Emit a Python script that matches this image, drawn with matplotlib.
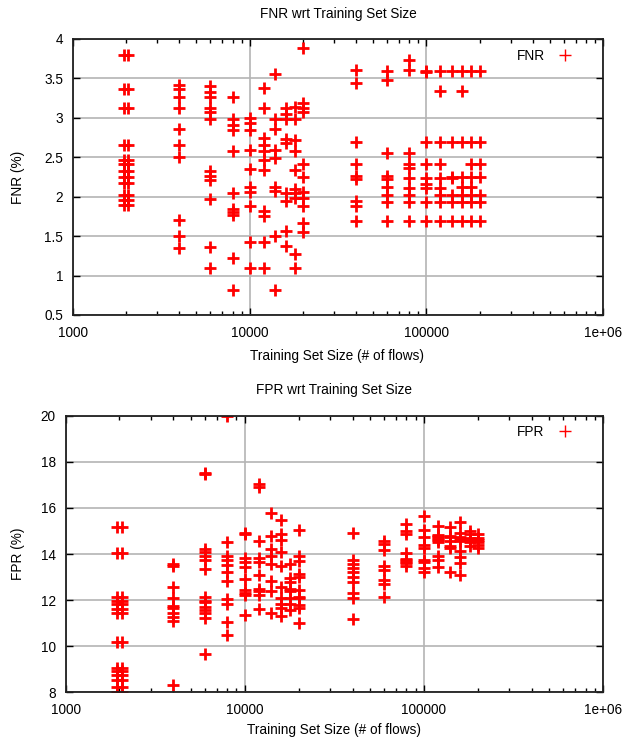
import matplotlib
matplotlib.use("Agg")
import matplotlib.pyplot as plt
import matplotlib.transforms as mtransforms
from matplotlib.ticker import NullFormatter, LogLocator
from matplotlib.lines import Line2D

plt.rcParams['font.family'] = ['Liberation Sans', 'DejaVu Sans']

# ---------------- data ----------------
sizes = [2000, 4000, 6000, 8000, 10000, 12000, 14000, 16000, 18000, 20000,
         40000, 60000, 80000, 100000, 120000, 140000, 160000, 180000, 200000]

fnr_values = [
    [3.80, 3.36, 3.13, 2.65, 2.46, 2.41, 2.33, 2.25, 2.17, 2.02, 1.96, 1.90],  # 2000
    [3.42, 3.37, 3.26, 3.12, 2.86, 2.65, 2.50, 1.70, 1.50, 1.35],              # 4000
    [3.40, 3.33, 3.27, 3.13, 3.07, 2.98, 2.33, 2.26, 2.21, 1.97, 1.36, 1.10],  # 6000
    [3.27, 2.98, 2.91, 2.84, 2.58, 2.05, 1.84, 1.80, 1.77, 1.22, 0.82],        # 8000
    [3.00, 2.93, 2.85, 2.59, 2.35, 2.12, 2.06, 1.88, 1.42, 1.10],              # 10000
    [3.38, 3.12, 2.74, 2.66, 2.58, 2.46, 2.34, 1.82, 1.76, 1.42, 1.10],        # 12000
    [3.55, 2.99, 2.86, 2.59, 2.49, 2.12, 2.07, 1.50, 0.82],                    # 14000
    [3.12, 3.05, 2.98, 2.73, 2.68, 2.05, 1.95, 1.57, 1.37],                    # 16000
    [3.14, 2.98, 2.72, 2.58, 2.34, 2.10, 2.05, 1.99, 1.27, 1.10],              # 18000
    [3.88, 3.19, 3.13, 3.07, 2.41, 2.25, 2.06, 1.98, 1.88, 1.67, 1.55],        # 20000
    [3.61, 3.44, 2.69, 2.41, 2.26, 2.22, 1.94, 1.88, 1.69],                    # 40000
    [3.59, 3.48, 2.55, 2.26, 2.23, 2.12, 2.02, 1.93, 1.69],                    # 60000
    [3.74, 3.61, 2.55, 2.41, 2.37, 2.24, 2.11, 2.02, 1.93, 1.69],              # 80000
    [3.59, 3.58, 2.69, 2.41, 2.24, 2.16, 2.11, 1.93, 1.69],                    # 100000
    [3.59, 3.34, 2.69, 2.41, 2.24, 2.11, 2.02, 1.93, 1.69],                    # 120000
    [3.59, 2.69, 2.25, 2.24, 2.02, 1.93, 1.69],                                # 140000
    [3.59, 3.34, 2.69, 2.25, 2.12, 2.02, 1.93, 1.69],                          # 160000
    [3.59, 2.69, 2.41, 2.25, 2.12, 2.02, 1.93, 1.69],                          # 180000
    [3.59, 2.69, 2.41, 2.25, 2.02, 1.93, 1.69],                                # 200000
]

fpr_values = [
    [15.17, 14.04, 12.12, 11.95, 11.82, 11.62, 11.42, 10.2, 9.07, 8.91, 8.76, 8.55, 8.25, 8.03],  # 2000
    [13.55, 13.5, 12.58, 12.08, 11.75, 11.65, 11.45, 11.25, 11.08, 8.32],            # 4000
    [17.52, 17.47, 14.2, 14.08, 13.9, 13.75, 13.36, 12.12, 11.98, 11.9, 11.7, 11.58, 11.42, 11.22, 9.67],  # 6000
    [20.0, 14.52, 13.92, 13.75, 13.52, 13.2, 12.82, 12.05, 11.85, 11.06, 10.5],     # 8000
    [14.93, 14.88, 13.82, 13.66, 13.42, 12.9, 12.42, 12.3, 12.2, 11.35],            # 10000
    [17.02, 16.9, 14.55, 13.82, 13.66, 13.08, 12.5, 12.4, 12.2, 11.62],             # 12000
    [15.78, 14.8, 14.22, 13.92, 13.55, 12.83, 12.4, 11.42],                         # 14000
    [15.48, 14.86, 14.6, 14.08, 13.46, 12.58, 12.1, 11.85, 11.64, 11.32],           # 16000
    [13.55, 12.95, 12.8, 12.5, 12.4, 12.1, 11.82, 11.56],                           # 18000
    [15.05, 13.93, 13.7, 13.12, 13.0, 12.45, 12.15, 12.08, 11.8, 11.64, 11.0],      # 20000
    [14.91, 13.76, 13.56, 13.4, 13.2, 13.0, 12.78, 12.3, 12.1, 11.16],              # 40000
    [14.56, 14.42, 14.19, 13.5, 13.3, 12.88, 12.7, 12.14],                          # 60000
    [15.3, 15.0, 14.85, 14.05, 13.8, 13.74, 13.66, 13.6, 13.5],                     # 80000
    [15.65, 15.05, 14.75, 14.37, 14.26, 13.72, 13.65, 13.38, 13.22],                # 100000
    [15.22, 14.82, 14.77, 14.72, 14.67, 14.6, 14.5, 13.9, 13.75, 13.45],            # 120000
    [15.17, 14.8, 14.73, 14.55, 14.33, 14.25, 13.2],                                # 140000
    [15.4, 14.9, 14.75, 14.65, 14.55, 14.15, 13.85, 13.6, 13.1],                    # 160000
    [15.0, 14.85, 14.7, 14.6, 14.5, 14.35],                                         # 180000
    [14.85, 14.7, 14.6, 14.5, 14.4, 14.25],                                         # 200000
]

doubled_sizes = [2000]   # columns drawn as a pair of side-by-side markers

fnr_yticks = [0.5, 1, 1.5, 2, 2.5, 3, 3.5, 4]
fnr_yticklabels = ["0.5", "1", "1.5", "2", "2.5", "3", "3.5", "4"]
fpr_yticks = [8, 10, 12, 14, 16, 18, 20]
fpr_yticklabels = ["8", "10", "12", "14", "16", "18", "20"]
xticks = [1000, 10000, 100000, 1000000]
xticklabels = ["1000", "10000", "100000", "1e+06"]

# ---------------- figure ----------------
W, H = 634, 738
fig = plt.figure(figsize=(W / 100, H / 100), dpi=100)

RED = '#ff0000'
GRID = '#b4b4b4'
FS = 9.8


def setup(ax, ylim, yticks, ylabels):
    ax.set_xscale('log')
    ax.set_xlim(1000, 1e6)
    ax.set_ylim(*ylim)
    ax.set_xticks(xticks)
    ax.set_xticklabels(xticklabels)
    ax.xaxis.set_minor_locator(LogLocator(base=10, subs=range(2, 10)))
    ax.xaxis.set_minor_formatter(NullFormatter())
    ax.set_yticks(yticks)
    ax.set_yticklabels(ylabels)
    ax.tick_params(which='both', direction='in', top=True, right=True,
                   labelsize=FS, colors='black', width=1)
    ax.tick_params(which='major', length=5)
    ax.tick_params(axis='x', which='major', pad=8)
    ax.tick_params(axis='y', which='major', pad=7)
    ax.tick_params(which='minor', length=3)
    ax.grid(True, which='major', color=GRID, linewidth=1.2)
    ax.set_axisbelow(True)
    for s in ax.spines.values():
        s.set_linewidth(1.3)
        s.set_color('#202020')


def scatter_cols(ax, values):
    for sz, ys in zip(sizes, values):
        xs = [sz] * len(ys)
        if sz in doubled_sizes:
            for dx in (-2.2, 2.2):
                tr = mtransforms.offset_copy(ax.transData, fig=fig, x=dx, y=0, units='dots')
                ax.plot(xs, ys, linestyle='none', marker='+', markersize=8,
                        markeredgewidth=2.0, color=RED, transform=tr, clip_on=True)
        else:
            ax.plot(xs, ys, linestyle='none', marker='+', markersize=8,
                    markeredgewidth=2.0, color=RED, clip_on=True)


def legend(ax, label):
    h = Line2D([], [], linestyle='none', marker='+', markersize=9,
               markeredgewidth=1.0, color=RED)
    lg = ax.legend([h], [label], loc='upper right', frameon=False,
                   markerfirst=False, fontsize=FS, handletextpad=0.9,
                   handlelength=1.2, borderaxespad=0.3,
                   bbox_to_anchor=(0.962, 1.0))
    return lg


# top panel
ax1 = fig.add_axes([73 / W, 1 - 315 / H, (603 - 73) / W, (315 - 39) / H])
setup(ax1, (0.5, 4), fnr_yticks, fnr_yticklabels)
scatter_cols(ax1, fnr_values)
legend(ax1, 'FNR')
fig.text(338 / W, 1 - 14 / H, 'FNR wrt Training Set Size', ha='center', va='center', fontsize=FS)
fig.text(337 / W, 1 - 356 / H, 'Training Set Size (# of flows)', ha='center', va='center', fontsize=FS)
fig.text(18 / W, 1 - 177 / H, 'FNR (%)', ha='center', va='center', rotation=90, fontsize=FS)

# bottom panel
ax2 = fig.add_axes([65.5 / W, 1 - 692.3 / H, (603 - 65.5) / W, (692.3 - 415.7) / H])
setup(ax2, (8, 20), fpr_yticks, fpr_yticklabels)
scatter_cols(ax2, fpr_values)
legend(ax2, 'FPR')
fig.text(334 / W, 1 - 390 / H, 'FPR wrt Training Set Size', ha='center', va='center', fontsize=FS)
fig.text(334 / W, 1 - 730 / H, 'Training Set Size (# of flows)', ha='center', va='center', fontsize=FS)
fig.text(18 / W, 1 - 554 / H, 'FPR (%)', ha='center', va='center', rotation=90, fontsize=FS)

fig.savefig('out.png', dpi=100)
